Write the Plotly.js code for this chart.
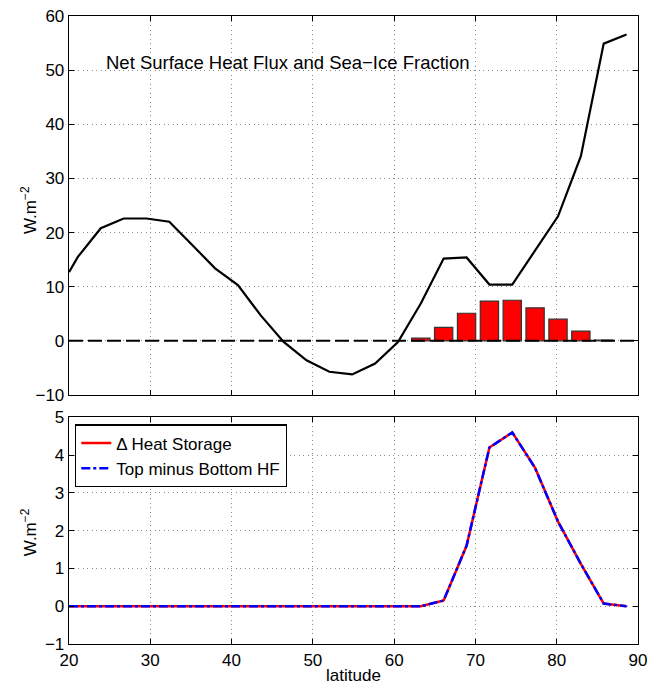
<!DOCTYPE html>
<html>
<head>
<meta charset="utf-8">
<script src="https://cdn.plot.ly/plotly-3.0.1.min.js"></script>
<style>html,body{margin:0;padding:0;background:#fff;}#chart{width:661px;height:685px;}</style>
</head>
<body>
<div id="chart"></div>
<script>
// Latitudes of the model grid (deg N)
const lat = [20.0, 21.09, 23.91, 26.72, 29.53, 32.34, 35.16, 37.97, 40.78, 43.59, 46.41, 49.22, 52.03, 54.84, 57.66, 60.47, 63.28, 66.09, 68.91, 71.72, 74.53, 77.34, 80.16, 82.97, 85.78, 88.59];
// Net surface heat flux (W m^-2)
const netFlux = [12.7, 15.5, 20.8, 22.6, 22.6, 22.0, 17.7, 13.4, 10.3, 4.7, -0.2, -3.6, -5.7, -6.2, -4.2, -0.2, 6.9, 15.2, 15.4, 10.4, 10.4, 16.7, 23.0, 34.1, 54.9, 56.6];
// Sea-ice fraction bars
const iceLat = [63.28, 66.09, 68.91, 71.72, 74.53, 77.34, 80.16, 82.97, 85.78];
const iceFrac = [0.5, 2.5, 5.1, 7.35, 7.5, 6.1, 4.0, 1.8, 0.15];
// Zero reference line
const zeroX = [20, 90];
const zeroY = [0, 0];
// Bottom panel series
const heatStorage = [0, 0, 0, 0, 0, 0, 0, 0, 0, 0, 0, 0, 0, 0, 0, 0, 0.0, 0.15, 1.6, 4.2, 4.6, 3.66, 2.24, 1.12, 0.07, 0.0];
const topMinusBottom = [0, 0, 0, 0, 0, 0, 0, 0, 0, 0, 0, 0, 0, 0, 0, 0, 0.0, 0.15, 1.6, 4.2, 4.6, 3.66, 2.24, 1.12, 0.07, 0.0];
const xTicks = [20, 30, 40, 50, 60, 70, 80, 90];
const topYTicks = [-10, 0, 10, 20, 30, 40, 50, 60];
const botYTicks = [-1, 0, 1, 2, 3, 4, 5];
const yTitle = 'W.m<sup>−2</sup>';

const FONT = 'Liberation Sans, Arial, Helvetica, sans-serif';

const traces = [
  {x: zeroX, y: zeroY, xaxis: 'x2', yaxis: 'y2', mode: 'lines', showlegend: false,
   line: {color: 'black', width: 2, dash: '14px,5px'}, hoverinfo: 'skip'},
  {x: iceLat, y: iceFrac, xaxis: 'x2', yaxis: 'y2', type: 'bar', showlegend: false,
   marker: {color: '#ff0000', line: {color: '#333', width: 1.2}}},
  {x: lat, y: netFlux, xaxis: 'x2', yaxis: 'y2', mode: 'lines', showlegend: false,
   line: {color: 'black', width: 2.2}},
  {x: lat, y: heatStorage, xaxis: 'x', yaxis: 'y', mode: 'lines', name: 'Δ Heat Storage',
   line: {color: '#ff0000', width: 2.5}},
  {x: lat, y: topMinusBottom, xaxis: 'x', yaxis: 'y', mode: 'lines', name: 'Top minus Bottom HF',
   line: {color: '#0000ff', width: 2.5, dash: 'dashdot'}}
];

const axCommon = {
  showline: true, linecolor: 'black', linewidth: 1.3, mirror: 'allticks',
  ticks: 'inside', ticklen: 5, tickcolor: 'black',
  showgrid: true, gridcolor: '#8a8a8a', griddash: '1px,3.5px', gridwidth: 1,
  zeroline: false, tickfont: {family: FONT, size: 17, color: 'black'}
};

const layout = {
  width: 661, height: 685,
  margin: {l: 69, r: 23, t: 16, b: 41},
  paper_bgcolor: 'white', plot_bgcolor: 'white',
  font: {family: FONT, size: 17, color: 'black'},
  bargap: 0.2,
  xaxis: Object.assign({}, axCommon, {range: [20, 90], tickvals: xTicks, domain: [0, 1], anchor: 'y',
    title: {text: 'latitude', font: {family: FONT, size: 17}, standoff: 1}}),
  yaxis: Object.assign({}, axCommon, {range: [-1, 5], tickvals: botYTicks, domain: [0, 0.361], anchor: 'x'}),
  xaxis2: Object.assign({}, axCommon, {range: [20, 90], tickvals: xTicks, showticklabels: false, domain: [0, 1], anchor: 'y2'}),
  yaxis2: Object.assign({}, axCommon, {range: [-10, 60], tickvals: topYTicks, domain: [0.3965, 1], anchor: 'x2'}),
  legend: {x: 0.0105, y: 0.350, xanchor: 'left', yanchor: 'top', bgcolor: 'white',
    bordercolor: 'black', borderwidth: 1.3, font: {family: FONT, size: 17}, tracegroupgap: 0},
  annotations: [
    {text: 'Net Surface Heat Flux and Sea−Ice Fraction', xref: 'x2', yref: 'y2',
     x: 47.0, y: 51.5, showarrow: false, font: {family: FONT, size: 18.5, color: 'black'}},
    {text: yTitle, xref: 'paper', yref: 'paper', x: 0, xshift: -40, y: 0.691, textangle: -90,
     xanchor: 'center', yanchor: 'middle', showarrow: false, font: {family: FONT, size: 17, color: 'black'}},
    {text: yTitle, xref: 'paper', yref: 'paper', x: 0, xshift: -40, y: 0.178, textangle: -90,
     xanchor: 'center', yanchor: 'middle', showarrow: false, font: {family: FONT, size: 17, color: 'black'}}
  ]
};

Plotly.newPlot('chart', traces, layout, {displayModeBar: false, staticPlot: true});
</script>
</body>
</html>
